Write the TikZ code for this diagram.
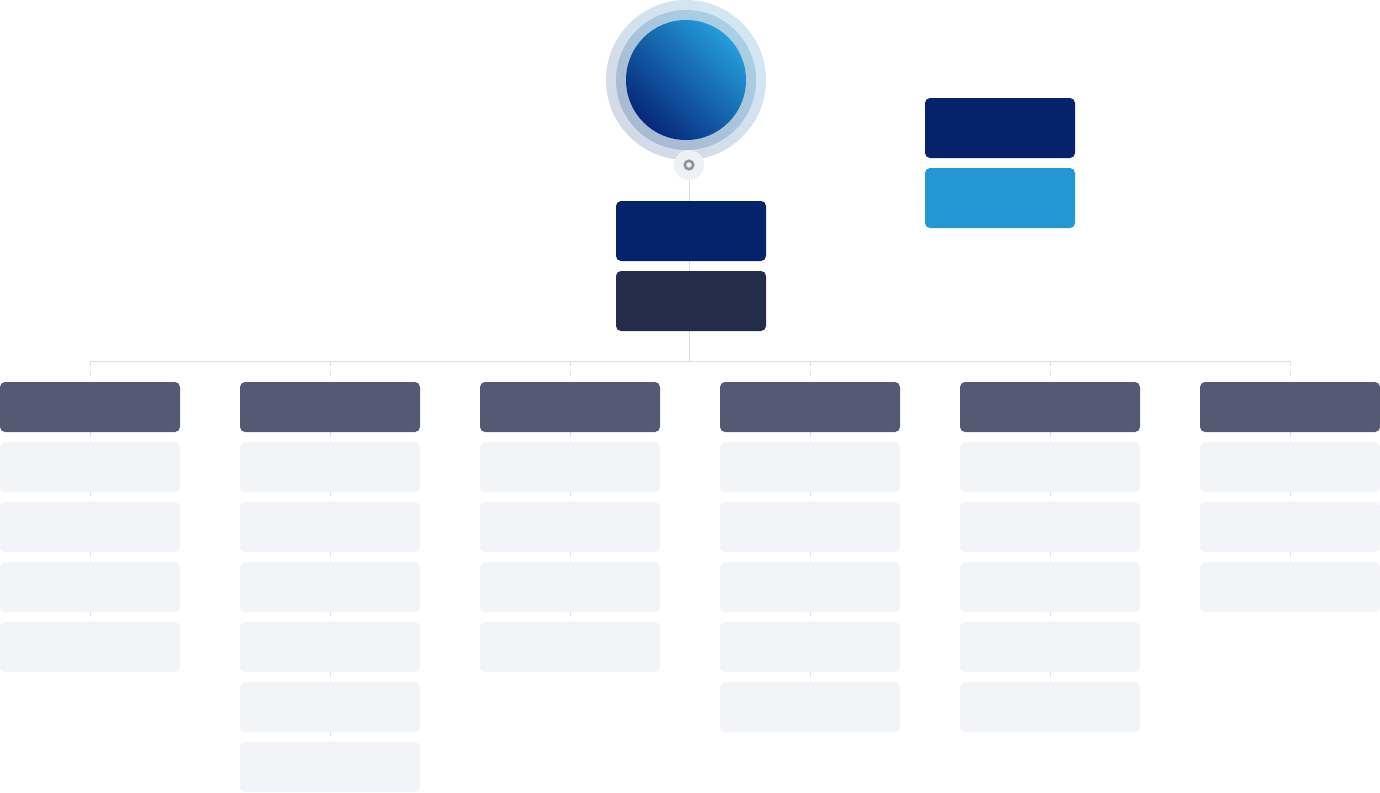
\documentclass[tikz,border=0pt]{standalone}
\usetikzlibrary{backgrounds}

\definecolor{navy}{HTML}{04236B}
\definecolor{midnight}{HTML}{232C4A}
\definecolor{skyblue}{HTML}{2397D4}
\definecolor{slate}{HTML}{545A74}
\definecolor{mist}{HTML}{F3F4F8}
\definecolor{wire}{HTML}{DCDDE3}
\definecolor{orbtop}{HTML}{259CD8}
\definecolor{orbbottom}{HTML}{05287A}
\definecolor{ringtop}{HTML}{A8D0E6}
\definecolor{ringbottom}{HTML}{A9B9D1}
\definecolor{halotop}{HTML}{D3E7F3}
\definecolor{halobottom}{HTML}{D3DAE7}
\definecolor{knob}{HTML}{EEF0F4}
\definecolor{knobring}{HTML}{8D929C}

\tikzset{
  card/.style={rounded corners=2.5mm, minimum width=75mm, minimum height=30mm, inner sep=0pt},
  head/.style={rounded corners=2.5mm, minimum width=90mm, minimum height=25mm, inner sep=0pt, fill=slate},
  cell/.style={rounded corners=2.5mm, minimum width=90mm, minimum height=25mm, inner sep=0pt, fill=mist},
  disc/.style 2 args={circle, inner sep=0pt, top color=#1, bottom color=#2, shading angle=-45},
  link/.style={draw=wire, line width=0.5mm},
}

\begin{document}
\begin{tikzpicture}[x=0.5mm, y=-0.5mm]
\useasboundingbox (0,0) rectangle (1380,792);

% top orb
\node[disc={halotop}{halobottom}, minimum size=80mm] (halo) at (686,80) {};
\node[disc={ringtop}{ringbottom}, minimum size=70mm] (ring) at (686,80) {};
\node[disc={orbtop}{orbbottom}, minimum size=60mm] (orb) at (686,80) {};
\node[circle, fill=knob, minimum size=15mm, inner sep=0pt] (dot) at (689,165) {};
\node[circle, draw=knobring, line width=1.3mm, minimum size=4.2mm, inner sep=0pt] (pin) at (dot) {};

% title cards
\node[card, fill=navy] (name) at (691,231) {};
\node[card, fill=midnight] (role) at (691,301) {};
\node[card, fill=navy] (keya) at (1000,128) {};
\node[card, fill=skyblue] (keyb) at (1000,198) {};

% columns
\foreach \c/\n in {1/4,2/6,3/4,4/5,5/5,6/3}{
  \node[head] (h\c) at ({90+240*(\c-1)},407) {};
  \foreach \k in {1,...,\n}
    \node[cell] (c\c-\k) at ({90+240*(\c-1)},{407+60*\k}) {};
}

\coordinate (bus) at (689,361);

\begin{scope}[on background layer]
\draw[link] (dot) -- (bus);
\draw[link] (h1 |- bus) -- (h6 |- bus);
\foreach \c/\n in {1/4,2/6,3/4,4/5,5/5,6/3}
  \draw[link, dash pattern=on 2.5mm off 2.5mm] (h\c |- bus) -- (c\c-\n.center);
\end{scope}
\end{tikzpicture}
\end{document}
